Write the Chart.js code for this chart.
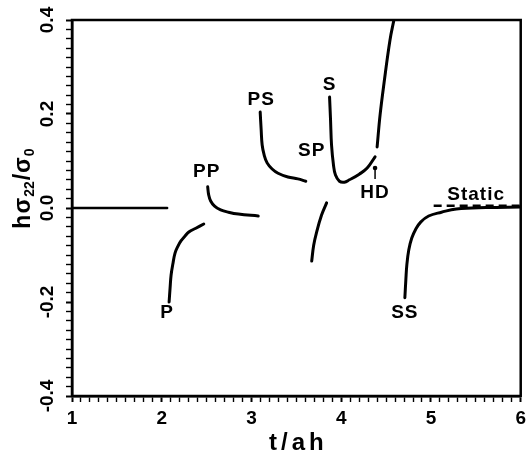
<!DOCTYPE html>
<html>
<head>
<meta charset="utf-8">
<script src="https://cdn.jsdelivr.net/npm/chart.js@4/dist/chart.umd.min.js"></script>
<style>
  html, body { margin: 0; padding: 0; background: #fff; }
  canvas { display: block; }
</style>
</head>
<body>
<canvas id="c" width="531" height="459"></canvas>
<script>
// Normalised stress h*sigma22/sigma0 against normalised time t/ah,
// one branch for each wave arrival.

// quiescent state before the first arrival
const flatT = [1.0, 2.06];
const flatV = [0.0, 0.0];

// P branch
const pT = [2.082, 2.093, 2.104, 2.126, 2.148, 2.181, 2.214, 2.258, 2.302, 2.380, 2.468];
const pV = [-0.200, -0.170, -0.143, -0.117, -0.096, -0.081, -0.070, -0.060, -0.051, -0.043, -0.034];

// PP branch
const ppT = [2.512, 2.523, 2.545, 2.589, 2.656, 2.744, 2.854, 3.075];
const ppV = [0.045, 0.028, 0.015, 0.004, -0.004, -0.009, -0.013, -0.017];

// PS branch
const psT = [3.097, 3.108, 3.119, 3.141, 3.174, 3.230, 3.296, 3.406, 3.517, 3.605];
const psV = [0.204, 0.166, 0.134, 0.113, 0.096, 0.083, 0.074, 0.066, 0.062, 0.057];

// SP branch
const spT = [3.671, 3.693, 3.726, 3.781, 3.837];
const spV = [-0.113, -0.079, -0.051, -0.015, 0.011];

// S branch
const sT = [3.870, 3.881, 3.892, 3.914, 3.936, 3.980, 4.035, 4.091, 4.201, 4.289, 4.377];
const sV = [0.236, 0.187, 0.134, 0.091, 0.070, 0.057, 0.055, 0.060, 0.072, 0.085, 0.109];

// branch after the head wave
const hdT = [4.400, 4.433, 4.477, 4.543, 4.587];
const hdV = [0.130, 0.198, 0.266, 0.357, 0.400];

// SS branch, settling onto the static value
const ssT = [4.709, 4.720, 4.731, 4.753, 4.786, 4.830, 4.885, 4.974, 5.117, 5.283, 5.614, 6.0];
const ssV = [-0.191, -0.153, -0.121, -0.089, -0.064, -0.045, -0.030, -0.017, -0.009, -0.002, 0.001, 0.002];

// static solution
const staticT = [5.03, 6.0];
const staticV = [0.005, 0.005];

// head-wave arrival marker
const hdMarkT = 4.377;
const hdMarkV = 0.085;

// axis ticks
const xMajor = [1, 2, 3, 4, 5, 6];
const xTickLabels = ['1', '2', '3', '4', '5', '6'];
const yMajor = [-0.4, -0.2, 0.0, 0.2, 0.4];
const yTickLabels = ['-0.4', '-0.2', '0.0', '0.2', '0.4'];

// branch names, placed in data units
const tagText = ['P', 'PP', 'PS', 'S', 'SP', 'HD', 'Static', 'SS'];
const tagT = [2.060, 2.501, 3.108, 3.870, 3.671, 4.377, 5.503, 4.709];
const tagV = [-0.223, 0.077, 0.230, 0.262, 0.121, 0.032, 0.028, -0.223];

const FONT = "'Liberation Sans', Arial, Helvetica, sans-serif";

function pts(t, v) { return t.map((x, i) => ({ x: x, y: v[i] })); }

// minor tick positions
const xMinor = [];
for (let i = 10; i <= 60; i++) xMinor.push(i / 10);
const yMinor = [];
for (let i = -20; i <= 20; i++) yMinor.push(i / 50);

const isMajor = (list, v) => list.some(m => Math.abs(m - v) < 1e-6);

function curve(t, v, extra) {
  return Object.assign({
    data: pts(t, v),
    showLine: true,
    borderColor: '#000',
    borderWidth: 3,
    pointRadius: 0,
    pointHoverRadius: 0,
    tension: 0.4,
    fill: false,
    borderCapStyle: 'round',
    borderJoinStyle: 'round'
  }, extra || {});
}

const decor = {
  id: 'decor',
  afterDatasetsDraw(chart) {
    const ctx = chart.ctx;
    const xs = chart.scales.x, ys = chart.scales.y;

    // branch names
    ctx.save();
    ctx.fillStyle = '#000';
    ctx.font = 'bold 19px ' + FONT;
    ctx.textAlign = 'center';
    ctx.textBaseline = 'middle';
    if ('letterSpacing' in ctx) ctx.letterSpacing = '1px';
    tagText.forEach((s, i) => {
      ctx.fillText(s, xs.getPixelForValue(tagT[i]), ys.getPixelForValue(tagV[i]));
    });
    ctx.restore();

    // head-wave arrow
    const hx = xs.getPixelForValue(hdMarkT), hy = ys.getPixelForValue(hdMarkV);
    ctx.save();
    ctx.fillStyle = '#000';
    ctx.strokeStyle = '#000';
    ctx.lineWidth = 1.5;
    ctx.beginPath();
    ctx.arc(hx, hy, 2.3, 0, Math.PI * 2);
    ctx.fill();
    ctx.beginPath();
    ctx.moveTo(hx, hy);
    ctx.lineTo(hx, hy + 11);
    ctx.stroke();
    ctx.restore();
  },
  afterDraw(chart) {
    const ctx = chart.ctx;
    const a = chart.chartArea;
    const ys = chart.scales.y;

    // frame
    ctx.save();
    ctx.strokeStyle = '#000';
    ctx.lineWidth = 2.5;
    ctx.strokeRect(a.left, a.top, a.right - a.left, a.bottom - a.top);
    ctx.restore();

    // rotated y tick labels
    ctx.save();
    ctx.fillStyle = '#000';
    ctx.font = 'bold 19px ' + FONT;
    ctx.textAlign = 'center';
    ctx.textBaseline = 'middle';
    yMajor.forEach((v, i) => {
      ctx.save();
      ctx.translate(48, ys.getPixelForValue(v));
      ctx.rotate(-Math.PI / 2);
      ctx.fillText(yTickLabels[i], 0, 0);
      ctx.restore();
    });
    ctx.restore();

    // y title with subscripts
    const big = 'bold 23px ' + FONT;
    const small = 'bold 14px ' + FONT;
    const parts = [['h', big, 0], ['\u03c3', big, 0], ['22', small, 6], ['/', big, 0], ['\u03c3', big, 0], ['0', small, 6]];
    ctx.save();
    ctx.fillStyle = '#000';
    ctx.textBaseline = 'middle';
    ctx.textAlign = 'left';
    let total = 0;
    parts.forEach(p => { ctx.font = p[1]; total += ctx.measureText(p[0]).width + 1; });
    ctx.translate(24, 188);
    ctx.rotate(-Math.PI / 2);
    let px = -total / 2;
    parts.forEach(p => {
      ctx.font = p[1];
      ctx.fillText(p[0], px, p[2]);
      px += ctx.measureText(p[0]).width + 1;
    });
    ctx.restore();

    // x title
    ctx.save();
    ctx.fillStyle = '#000';
    ctx.font = 'bold 24px ' + FONT;
    ctx.textAlign = 'center';
    ctx.textBaseline = 'middle';
    if ('letterSpacing' in ctx) ctx.letterSpacing = '4px';
    ctx.fillText('t/ah', (a.left + a.right) / 2 + 2, 443);
    ctx.restore();
  }
};

new Chart(document.getElementById('c'), {
  type: 'scatter',
  data: {
    datasets: [
      curve(flatT, flatV, { borderWidth: 2.5, tension: 0 }),
      curve(pT, pV),
      curve(ppT, ppV),
      curve(psT, psV),
      curve(spT, spV),
      curve(sT, sV),
      curve(hdT, hdV),
      curve(ssT, ssV),
      curve(staticT, staticV, { borderWidth: 2.5, tension: 0, borderDash: [8, 5], borderCapStyle: 'butt' })
    ]
  },
  options: {
    responsive: false,
    animation: false,
    devicePixelRatio: 1,
    layout: { padding: { top: 20, right: 6, left: 0, bottom: 0 } },
    plugins: { legend: { display: false }, tooltip: { enabled: false } },
    scales: {
      x: {
        type: 'linear',
        min: 1,
        max: 6,
        afterBuildTicks: s => { s.ticks = xMinor.map(v => ({ value: v })); },
        afterFit: s => { s.height = 63; },
        grid: {
          display: true,
          drawOnChartArea: false,
          drawTicks: true,
          tickLength: 6,
          color: '#000',
          tickWidth: c => (c.tick && isMajor(xMajor, c.tick.value)) ? 2 : 1.4
        },
        border: { display: true, color: '#000', width: 2.5 },
        ticks: {
          autoSkip: false,
          maxRotation: 0,
          minRotation: 0,
          padding: 5,
          color: '#000',
          font: { family: FONT, size: 19, weight: 'bold' },
          callback: v => {
            const k = xMajor.findIndex(m => Math.abs(m - v) < 1e-6);
            return k >= 0 ? xTickLabels[k] : '';
          }
        }
      },
      y: {
        type: 'linear',
        min: -0.4,
        max: 0.4,
        afterBuildTicks: s => { s.ticks = yMinor.map(v => ({ value: v })); },
        afterFit: s => { s.width = 72; },
        grid: {
          display: true,
          drawOnChartArea: false,
          drawTicks: true,
          tickLength: 6,
          color: '#000',
          tickWidth: c => (c.tick && isMajor(yMajor, c.tick.value)) ? 2 : 1.4
        },
        border: { display: true, color: '#000', width: 2.5 },
        ticks: {
          autoSkip: false,
          padding: 0,
          color: '#000',
          font: { family: FONT, size: 19, weight: 'bold' },
          callback: () => ''
        }
      }
    }
  },
  plugins: [decor]
});
</script>
</body>
</html>
